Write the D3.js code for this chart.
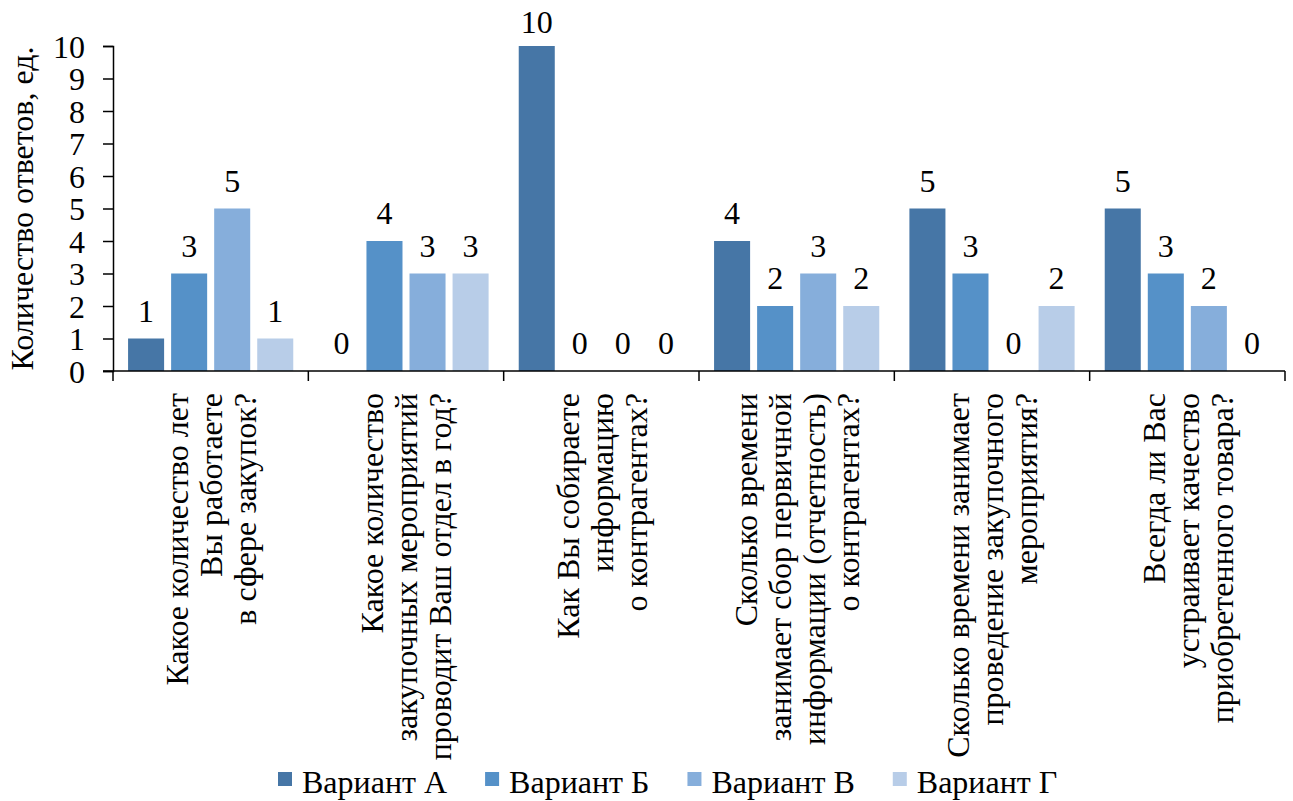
<!DOCTYPE html>
<html>
<head>
<meta charset="utf-8">
<script src="https://d3js.org/d3.v7.min.js"></script>
<style>
    body { margin: 0; background: #fff; }
</style>
</head>
<body>
<div class="svg-container"></div>
<script>
// categories (questions), split in lines as in the original
var categories = [
    ["Какое количество лет", "Вы работаете", "в сфере закупок?"],
    ["Какое количество", "закупочных мероприятий", "проводит Ваш отдел в год?"],
    ["Как Вы собираете", "информацию", "о контрагентах?"],
    ["Сколько времени", "занимает сбор первичной", "информации (отчетность)", "о контрагентах?"],
    ["Сколько времени занимает", "проведение закупочного", "мероприятия?"],
    ["Всегда ли Вас", "устраивает качество", "приобретенного товара?"]
];
var seriesNames = ["Вариант А", "Вариант Б", "Вариант В", "Вариант Г"];
var variantA = [1, 0, 10, 4, 5, 5];
var variantB = [3, 4, 0, 2, 3, 3];
var variantC = [5, 3, 0, 3, 0, 2];
var variantD = [1, 3, 0, 2, 2, 0];
var yTicks = [0, 1, 2, 3, 4, 5, 6, 7, 8, 9, 10];
var yTitle = "Количество ответов, ед.";

function render(){
    var width = 1293;
    var height = 801;
    var left = 113, right = 1285, top = 46, bottom = 371;
    var fontSize = 32;
    var font = "Liberation Serif";
    var colors = ["#4676a6", "#5591c8", "#86aedb", "#b8cde8"];
    var series = [variantA, variantB, variantC, variantD];

    var svg = d3.select(".svg-container").append("svg")
    .attr("width", width)
    .attr("height", height)
    .attr("font-family", font)
    .attr("font-size", fontSize);

    var idx = d3.range(categories.length);

    // X
    var x0 = d3.scaleBand()
    .domain(idx)
    .range([left, right])
    .padding(0);

    var x1 = d3.scaleBand()
    .domain(d3.range(series.length))
    .range([0, x0.bandwidth()])
    .paddingInner(0.163)
    .paddingOuter(0.35);

    // Y
    var y = d3.scaleLinear()
    .domain([0, 10])
    .range([bottom, top]);

    // bars
    series.forEach(function(s, si){
        svg.append("g")
        .selectAll("rect")
        .data(s)
        .enter().append("rect")
        .attr("x", function(d, i){ return x0(i) + x1(si); })
        .attr("y", function(d){ return y(d); })
        .attr("width", x1.bandwidth())
        .attr("height", function(d){ return y(0) - y(d); })
        .attr("fill", colors[si]);

        // value labels
        svg.append("g")
        .selectAll("text")
        .data(s)
        .enter().append("text")
        .attr("x", function(d, i){ return x0(i) + x1(si) + x1.bandwidth()/2; })
        .attr("y", function(d){ return Math.max(y(d) - 17, 33); })
        .attr("text-anchor", "middle")
        .attr("font-family", font)
        .attr("font-size", fontSize)
        .text(function(d){ return d; });
    });

    // Y axis
    var yAxis = svg.append("g")
    .attr("transform", "translate(" + left + ",0)")
    .call(d3.axisLeft(y).tickValues(yTicks).tickSize(10).tickPadding(18).tickFormat(d3.format("d")));
    yAxis.attr("font-family", font).attr("font-size", fontSize);
    yAxis.selectAll("text")
    .attr("font-family", font)
    .attr("font-size", fontSize)
    .attr("dy", "0.35em");
    yAxis.select(".domain").attr("stroke-width", 1.5);
    yAxis.selectAll(".tick line").attr("stroke-width", 1.5);

    // X axis: line + ticks at category boundaries
    var xb = d3.range(categories.length + 1).map(function(i){
        return i < categories.length ? x0(i) : x0(i - 1) + x0.bandwidth();
    });
    svg.append("line")
    .attr("x1", left - 10)
    .attr("x2", right)
    .attr("y1", bottom)
    .attr("y2", bottom)
    .attr("stroke", "#000")
    .attr("stroke-width", 1.5);
    svg.append("g")
    .selectAll("line")
    .data(xb)
    .enter().append("line")
    .attr("x1", function(d){ return d; })
    .attr("x2", function(d){ return d; })
    .attr("y1", bottom)
    .attr("y2", bottom + 10)
    .attr("stroke", "#000")
    .attr("stroke-width", 1.5);

    // category labels, rotated, right aligned to the axis
    var lineStep = 34;
    idx.forEach(function(i){
        var lines = categories[i];
        var cx = x0(i) + x0.bandwidth()/2;
        lines.forEach(function(ln, li){
            var lx = cx + (li - (lines.length - 1)/2) * lineStep;
            svg.append("text")
            .attr("transform", "translate(" + lx + "," + 393 + ") rotate(-90)")
            .attr("dy", "0.35em")
            .attr("text-anchor", "end")
            .attr("font-family", font)
            .attr("font-size", fontSize)
            .text(ln);
        });
    });

    // Y axis label
    svg.append("text")
    .attr("transform", "translate(33," + (top + bottom)/2 + ") rotate(-90)")
    .attr("text-anchor", "middle")
    .attr("font-family", font)
    .attr("font-size", fontSize)
    .text(yTitle);

    // legend
    var legend = svg.append("g");
    var lx = 278;
    seriesNames.forEach(function(name, i){
        var g = legend.append("g").attr("transform", "translate(" + lx + ",0)");
        g.append("rect")
        .attr("x", 0)
        .attr("y", 772)
        .attr("width", 14)
        .attr("height", 14)
        .attr("fill", colors[i]);
        var t = g.append("text")
        .attr("x", 24)
        .attr("y", 793)
        .attr("font-family", font)
        .attr("font-size", fontSize)
        .text(name);
        lx += 24 + t.node().getComputedTextLength() + 38;
    });
}

render();
</script>
</body>
</html>
